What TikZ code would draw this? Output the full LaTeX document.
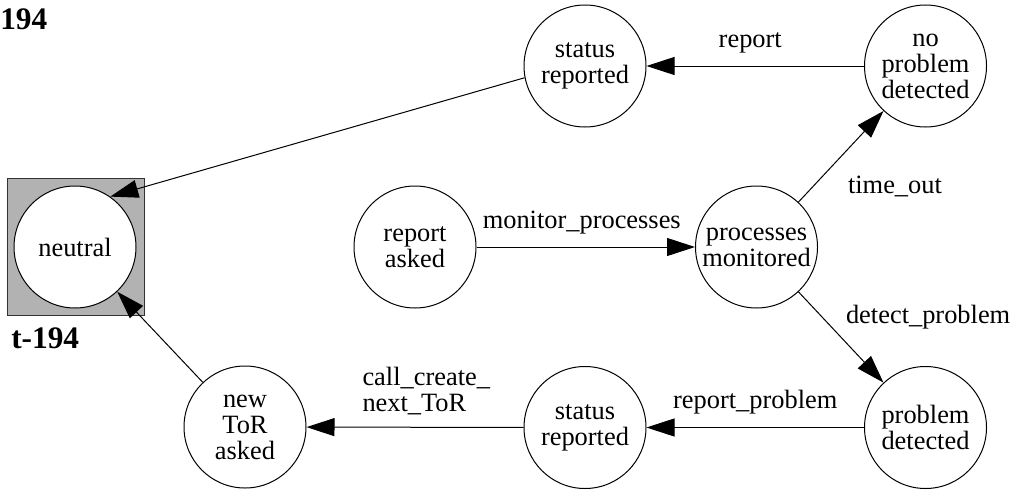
\documentclass[tikz,border=0pt]{standalone}
\usepackage{fontspec}
\setmainfont{Liberation Serif}
\usetikzlibrary{arrows.meta}

\tikzset{
  state/.style={draw, circle, fill=white, line width=0.75pt, minimum size=91.5pt,
    inner sep=0pt, align=center, font=\fontsize{19.8}{19.5}\selectfont},
  lbl/.style={inner sep=0pt, font=\fontsize{19.8}{19.5}\selectfont},
  trans/.style={-{Triangle[length=21pt,width=13.5pt]}, line width=0.75pt},
  tag/.style={anchor=base west, inner sep=0pt, font=\bfseries\fontsize{23.5}{24}\selectfont}
}

\begin{document}
\begin{tikzpicture}[x=0.75pt, y=-0.75pt]
    \useasboundingbox (0,0) rectangle (1016,489);

    % initial state
    \node[draw=black!80, fill=black!30, line width=0.75pt, minimum size=102.75pt, inner sep=0pt] (ntbox) at (75.5,247) {};
    \node[state] (nt) at (75,247) {neutral};
    \node[tag] (title) at (0,29) {194};
    \node[tag] (ntname) at (11,348) {t-194};

    % states
    \node[state] (st1) at (585,66) {status\\reported};
    \node[state] (np) at (925.5,66) {no\\problem\\detected};
    \node[state] (ra) at (415,247) {report\\asked};
    \node[state] (pm) at (756.5,247) {processes\\monitored};
    \node[state] (pd) at (925.5,427.5) {problem\\detected};
    \node[state] (st2) at (585,427.5) {status\\reported};
    \node[state] (nta) at (245,427) {new\\ToR\\asked};

    % transitions
    \draw[trans] (np) -- node[lbl, anchor=base, xshift=-3.75pt, yshift=14.25pt] {report} (st1);
    \draw[trans] (ra) -- node[lbl, anchor=base, xshift=-3pt, yshift=14.25pt] {monitor\_processes} (pm);
    \draw[trans] (pm) -- node[lbl, anchor=base west, xshift=4.9pt, yshift=-28.1pt] {time\_out} (np);
    \draw[trans] (pm) -- node[lbl, anchor=base west, xshift=3.4pt, yshift=10.5pt] {detect\_problem} (pd);
    \draw[trans] (pd) -- node[lbl, anchor=base, yshift=14.25pt] {report\_problem} (st2);
    \draw[trans] (st2) -- node[lbl, anchor=north west, align=left, xshift=-39.75pt, yshift=45.2pt] {call\_create\_\\next\_ToR} (nta);
    \draw[trans] (st1.191) -- (nt.55);
    \draw[trans] (nta) -- (nt);
\end{tikzpicture}
\end{document}
